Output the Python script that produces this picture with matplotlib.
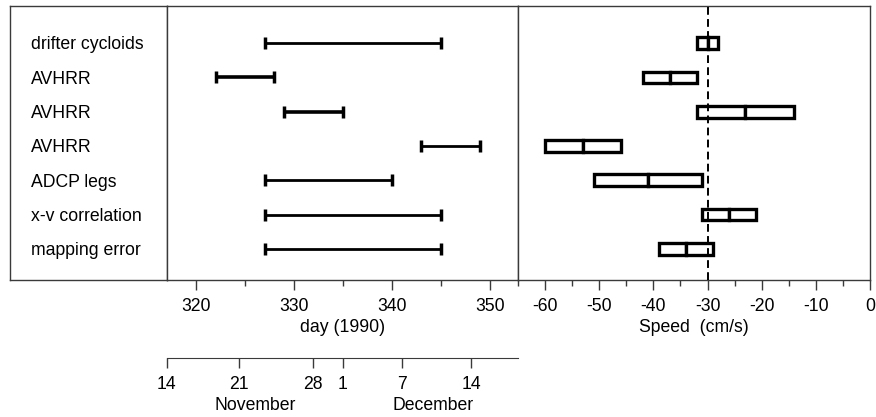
# timing and speed estimates for the feature, 1990 cruise

# import libraries
import numpy as np
import matplotlib
matplotlib.use("Agg")
from matplotlib import pyplot as plt
from matplotlib.transforms import blended_transform_factory

plt.rcParams['font.family'] = ['Liberation Sans', 'DejaVu Sans']
plt.rcParams['font.size'] = 12
plt.rcParams['axes.unicode_minus'] = False

# ####################################################################################
# DATA
# ####################################################################################

methods = ["drifter cycloids", "AVHRR", "AVHRR", "AVHRR",
           "ADCP legs", "x-v correlation", "mapping error"]

# day of year (1990), start and end of each estimate
day_start = [327, 322, 329, 343, 327, 327, 327]
day_end = [345, 328, 335, 349, 340, 345, 345]
day_lw = [2, 2.6, 2.6, 2, 2, 2, 2]

# speed estimates (cm/s): low, best, high
speed_lo = [-32, -42, -32, -60, -51, -31, -39]
speed_mid = [-30, -37, -23, -53, -41, -26, -34]
speed_hi = [-28, -32, -14, -46, -31, -21, -29]
speed_ref = -30

# calendar axis, tick positions
date_pos = [317.0, 324.4, 331.9, 335.0, 341.0, 348.1]
date_lab = ["14", "21", "28", "1", "7", "14"]
month_pos = [326.0, 344.2]
month_lab = ["November", "December"]

# ####################################################################################
# FIGURE
# ####################################################################################

W, H = 876, 417
fig = plt.figure(figsize=(W / 100, H / 100), dpi=100)

def px_box(x0, x1, ytop, ybot):
    # pixel rectangle -> figure fraction [left, bottom, width, height]
    return [x0 / W, 1 - ybot / H, (x1 - x0) / W, (ybot - ytop) / H]

frame_col = '#3a3a3a'
ytop, ybot = 6, 280
ax_lab = fig.add_axes(px_box(10, 166.7, ytop, ybot))
ax_day = fig.add_axes(px_box(166.7, 518, ytop, ybot))
ax_spd = fig.add_axes(px_box(518, 870, ytop, ybot))

rows = np.arange(len(methods), 0, -1)
for ax in (ax_lab, ax_day, ax_spd):
    ax.set_ylim(0.094, 8.08)
    ax.set_yticks([])
    for s in ax.spines.values():
        s.set_color(frame_col)
        s.set_linewidth(1)

# label column
ax_lab.set_xlim(0, 1)
ax_lab.set_xticks([])
for y, name in zip(rows, methods):
    ax_lab.text(0.134, y - 0.05, name, ha='left', va='center', fontsize=12.7)

# day ranges
for y, a, b, lw in zip(rows, day_start, day_end, day_lw):
    ax_day.errorbar((a + b) / 2, y, xerr=(b - a) / 2, fmt='none', ecolor='black',
                    elinewidth=lw, capsize=4.5, capthick=2.5)
ax_day.set_xlim(317, 352.9)
ax_day.set_xticks([320, 330, 340, 350])
ax_day.set_xticks([325, 335, 345], minor=True)
ax_day.set_xlabel("day (1990)", labelpad=3, fontsize=12.7)

# speed boxes
bh = 0.34
for y, lo, mid, hi in zip(rows, speed_lo, speed_mid, speed_hi):
    ax_spd.barh(y, mid - lo, left=lo, height=bh, facecolor='white',
                edgecolor='black', linewidth=2.4, zorder=3)
    ax_spd.barh(y, hi - mid, left=mid, height=bh, facecolor='white',
                edgecolor='black', linewidth=2.4, zorder=3)
ax_spd.axvline(speed_ref, color='black', lw=1.4, ls=(0, (4, 2.2)), zorder=4,
               clip_on=False)
ax_spd.set_xlim(-65, 0)
ax_spd.set_xticks(np.arange(-60, 1, 10))
ax_spd.set_xticks(np.arange(-65, 0, 10), minor=True)
ax_spd.set_xlabel("Speed  (cm/s)", labelpad=3, fontsize=12.7)

for ax in (ax_day, ax_spd):
    ax.tick_params(axis='x', which='major', direction='out', length=7, width=1,
                   color=frame_col, pad=6, labelsize=12.7)
    ax.tick_params(axis='x', which='minor', direction='out', length=4, width=1,
                   color=frame_col)

# calendar axis under the day axis
ax_cal = fig.add_axes(px_box(166.7, 518, 340, 358))
ax_cal.set_xlim(317, 352.9)
ax_cal.set_ylim(0, 1)
for side in ('top', 'left', 'right'):
    ax_cal.spines[side].set_visible(False)
ax_cal.spines['bottom'].set_color(frame_col)
ax_cal.patch.set_visible(False)
ax_cal.set_yticks([])
ax_cal.set_xticks(date_pos)
ax_cal.set_xticklabels(date_lab)
ax_cal.tick_params(axis='x', direction='out', length=7, width=1,
                   color=frame_col, pad=6, labelsize=12.7)
trans = blended_transform_factory(ax_cal.transData, fig.transFigure)
for x, m in zip(month_pos, month_lab):
    ax_cal.text(x, 1 - 405 / H, m, ha='center', va='center', fontsize=12.7,
                transform=trans)

fig.savefig("out.png", dpi=100)
